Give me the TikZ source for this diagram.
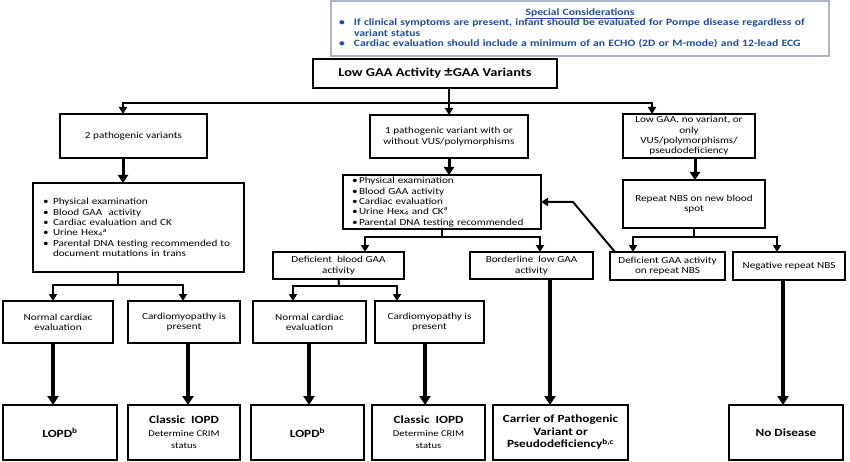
\documentclass[tikz,border=0pt]{standalone}
\usepackage{fontspec}
\setmainfont{Carlito}[FakeStretch=1.2]
\usetikzlibrary{arrows.meta}
\definecolor{scblue}{HTML}{1F4E96}
\definecolor{scgray}{HTML}{AEB6C6}
\newcommand\bla[1]{\makebox[10pt][l]{\textbullet}#1}
\newcommand\blb[1]{\makebox[7pt][l]{\textbullet}#1}
\newcommand\blc[1]{\makebox[15pt][l]{\textbullet}#1}
\newcommand\dcs{\normalfont\fontsize{8.8}{11.2}\selectfont}
\newcommand\boxat[6]{\node[#1, minimum width={(#4-#2)*1pt}, minimum height={(#5-#3)*1pt}] (#6) at (#2,#3)}
\begin{document}
\begin{tikzpicture}[x=1pt,y=-1pt,
  box/.style={draw, line width=2.7pt, align=center, inner sep=1pt, outer sep=0pt, anchor=north west, font=\fontsize{9.3}{10.3}\selectfont},
  bbox/.style={box, font=\bfseries\fontsize{11}{12.5}\selectfont},
  scbox/.style={draw=scgray, line width=1.2pt, fill=white, align=left, text width=482pt, inner sep=1pt, outer sep=0pt, anchor=north west, text=scblue, font=\bfseries\fontsize{9.7}{10.4}\selectfont},
  link/.style={line width=2pt},
  arrs/.style={line width=2pt, -{Triangle[length=7pt,width=8pt]}},
  arrm/.style={line width=3pt, -{Triangle[length=8pt,width=10pt]}},
  arrl/.style={line width=3.5pt, -{Triangle[length=9pt,width=11pt]}}]
\useasboundingbox (0,0) rectangle (850,462);
\fill[white] (0,0) rectangle (850,462);

\boxat{scbox}{331}{1}{829}{56}{sc} {\makebox[\linewidth]{\underline{Special Considerations}}\\
\blc{If clinical symptoms are present, infant should be evaluated for Pompe disease regardless of}\\
\hspace*{15pt}variant status\\
\blc{Cardiac evaluation should include a minimum of an ECHO (2D or M-mode) and 12-lead ECG}};

\boxat{box, line width=2.8pt, font=\bfseries\fontsize{12}{14}\selectfont}{313}{59}{557}{88}{T} {Low GAA Activity {\fontsize{14}{14}\selectfont ±}GAA Variants};

\boxat{box}{60}{114}{207}{158}{B1} {2 pathogenic variants};
\boxat{box}{370}{115}{528}{158}{B2} {1 pathogenic variant with or\\ without VUS/polymorphisms};
\boxat{box}{623}{114}{755}{158}{B3} {Low GAA, no variant, or\\ only\\ VUS/polymorphisms/\\ pseudodeficiency};

\boxat{box, align=left, text width=191pt}{33}{183}{244}{272}{C1} {\bla{Physical examination}\\
\bla{Blood GAA\ \ activity}\\
\bla{Cardiac evaluation and CK}\\
\bla{Urine Hex\textsubscript{4}\textsuperscript{a}}\\
\bla{Parental DNA testing recommended to}\\
\hspace*{10pt}document mutations in trans};
\boxat{box, align=left, text width=180pt}{343}{175}{541}{229}{C2} {\blb{Physical examination}\\
\blb{Blood GAA activity}\\
\blb{Cardiac evaluation}\\
\blb{Urine Hex\textsubscript{4} and CK\textsuperscript{a}}\\
\blb{Parental DNA testing recommended}};
\boxat{box}{623}{180}{765}{228}{D1} {Repeat NBS on new blood\\ spot};

\boxat{box}{273}{252}{404}{279}{E1} {Deficient\ \ blood GAA\\ activity};
\boxat{box}{470}{252}{593}{279}{E2} {Borderline\ \ low GAA\\ activity};
\boxat{box}{610}{252}{725}{280}{E3} {Deficient GAA activity\\ on repeat NBS};
\boxat{box}{733}{252}{845}{280}{E4} {Negative repeat NBS};

\boxat{box}{3}{301}{113}{343}{F1} {Normal cardiac\\ evaluation};
\boxat{box}{128}{301}{240}{343}{F2} {Cardiomyopathy is\\ present};
\boxat{box}{253}{301}{366}{343}{F3} {Normal cardiac\\ evaluation};
\boxat{box}{375}{301}{484}{343}{F4} {Cardiomyopathy is\\ present};

\boxat{bbox}{3}{405}{117}{460}{G1} {LOPD\textsuperscript{b}};
\boxat{bbox}{128}{405}{240}{460}{G2} {Classic\ \ IOPD\\ \dcs Determine CRIM\\ \dcs status};
\boxat{bbox}{251}{405}{364}{460}{G3} {LOPD\textsuperscript{b}};
\boxat{bbox}{372}{405}{485}{460}{G4} {Classic\ \ IOPD\\ \dcs Determine CRIM\\ \dcs status};
\boxat{bbox}{493}{405}{628}{460}{G5} {Carrier of Pathogenic\\ Variant or\\ Pseudodeficiency\textsuperscript{b,c}};
\boxat{bbox}{729}{405}{843}{460}{G6} {No Disease};

% x markers
\coordinate (x53) at (53,0);
\coordinate (x123) at (123,0);
\coordinate (x183) at (183,0);
\coordinate (x188) at (188,0);
\coordinate (x293) at (293,0);
\coordinate (x309) at (309,0);
\coordinate (x365) at (365,0);
\coordinate (x397) at (397,0);
\coordinate (x425) at (425,0);
\coordinate (x449) at (449,0);
\coordinate (x540) at (540,0);
\coordinate (x550) at (550,0);
\coordinate (x633) at (633,0);
\coordinate (x652) at (652,0);
\coordinate (x695) at (695,0);
\coordinate (x777) at (777,0);
\coordinate (x783) at (783,0);

% junctions
\coordinate (j0) at (449,103);
\coordinate (s1) at (118,285);
\coordinate (s2) at (442,237);
\coordinate (s3) at (694,237);
\coordinate (s4) at (339,286);
\coordinate (dg) at (573,202);

% top split
\draw[arrs, line width=2.2pt] (T.south -| x449) -- (B2.north -| x449);
\draw[arrs] (j0) -| (B1.north -| x123);
\draw[arrs] (j0) -| (B3.north -| x652);

% level 1 -> 2
\draw[arrm] (B1.south -| x123) -- (C1.north -| x123);
\draw[arrm] (B2.south -| x449) -- (C2.north -| x449);
\draw[arrm] (B3.south -| x695) -- (D1.north -| x695);

% splits
\draw[link] (C1.south -| s1) -- (s1);
\draw[arrs] (s1) -| (F1.north -| x53);
\draw[arrs] (s1) -| (F2.north -| x183);

\draw[link] (C2.south) -- (s2);
\draw[arrs] (s2) -| (E1.north -| x365);
\draw[arrs] (s2) -| (E2.north -| x540);

\draw[link] (D1.south) -- (s3);
\draw[arrs] (s3) -| (E3.north -| x633);
\draw[arrs] (s3) -| (E4.north -| x777);

\draw[link] (E1.south) -- (s4);
\draw[arrs] (s4) -| (F3.north -| x293);
\draw[arrs] (s4) -| (F4.north -| x397);

% feedback
\draw[arrs] ([xshift=5pt]E3.north west) -- (dg) -- (C2.east |- dg);

% long arrows
\draw[arrl] (F1.south -| x53) -- (G1.north -| x53);
\draw[arrl] (F2.south -| x188) -- (G2.north -| x188);
\draw[arrl] (F3.south -| x309) -- (G3.north -| x309);
\draw[arrl] (F4.south -| x425) -- (G4.north -| x425);
\draw[arrl] (E2.south -| x550) -- (G5.north -| x550);
\draw[arrl] (E4.south -| x783) -- (G6.north -| x783);
\end{tikzpicture}
\end{document}
